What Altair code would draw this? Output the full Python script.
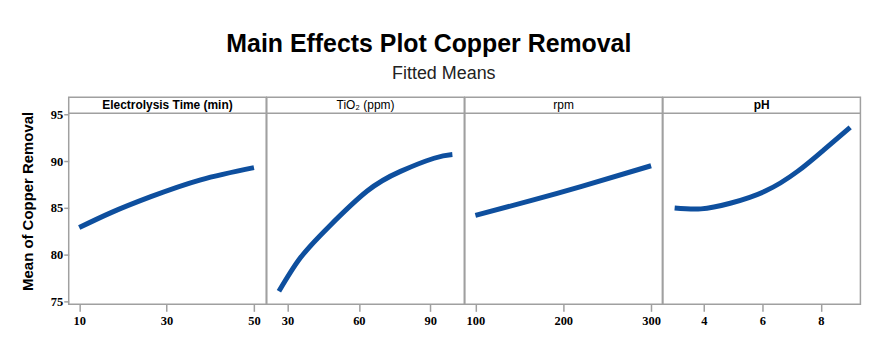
import altair as alt
import pandas as pd

# ---- data ----
time_x = [10, 17.3, 26.4, 37.8, 50]
time_y = [82.9, 84.5, 86.2, 88.0, 89.3]

tio2_x = [26.4, 35.5, 47.4, 63.5, 77.5, 91.6, 99.3]
tio2_y = [76.1, 79.7, 83.0, 86.8, 88.9, 90.3, 90.7]

rpm_x = [100, 164, 221, 300]
rpm_y = [84.2, 85.8, 87.3, 89.5]

ph_x = [3.0, 3.9, 4.9, 6.1, 7.2, 8.1, 9.0]
ph_y = [85.0, 84.9, 85.5, 86.8, 88.9, 91.2, 93.6]

headers = ["Electrolysis Time (min)", "TiO\u2082 (ppm)", "rpm", "pH"]
header_weights = ["bold", "normal", "normal", "bold"]
x_domains = [[7.6, 52.8], [21.3, 104.3], [88, 312.8], [2.6, 9.35]]
x_ticks = [[10, 30, 50], [30, 60, 90], [100, 200, 300], [4, 6, 8]]
y_ticks = [75, 80, 85, 90, 95]
y_domain = [74.71, 96.80]   # top part of the range holds the header strip

BLUE = "#0E4F9E"
FRAME = "#A0A0A0"
W, HH, H = 198.4, 16, 192


def panel(xs, ys, header, weight, xdom, xt, first):
    df = pd.DataFrame({"x": xs, "y": ys})
    if first:
        yaxis = alt.Axis(values=y_ticks, title="Mean of Copper Removal")
    else:
        yaxis = None
    line = alt.Chart(df).mark_line(
        color=BLUE, strokeWidth=5, interpolate="natural"
    ).encode(
        x=alt.X("x:Q", scale=alt.Scale(domain=xdom, nice=False, zero=False),
                axis=alt.Axis(values=xt, title=None)),
        y=alt.Y("y:Q", scale=alt.Scale(domain=y_domain, nice=False, zero=False),
                axis=yaxis),
    )
    hdf = pd.DataFrame({"t": [header]})
    rule = alt.Chart(hdf).mark_rule(color=FRAME, strokeWidth=1.5).encode(
        x=alt.value(0), x2=alt.value(W), y=alt.value(HH)
    )
    txt = alt.Chart(hdf).mark_text(
        font="Liberation Sans", fontSize=12, fontWeight=weight, color="black",
        baseline="middle", align="center"
    ).encode(text="t:N", x=alt.value(W / 2), y=alt.value(HH / 2))
    return alt.layer(line, rule, txt).properties(width=W, height=HH + H)


series = [(time_x, time_y), (tio2_x, tio2_y), (rpm_x, rpm_y), (ph_x, ph_y)]
cols = [
    panel(s[0], s[1], headers[i], header_weights[i], x_domains[i], x_ticks[i], i == 0)
    for i, s in enumerate(series)
]

inner = alt.hconcat(*cols, spacing=0, bounds="flush").properties(
    title=alt.TitleParams(
        "Fitted Means", font="Liberation Sans", fontSize=18, fontWeight="normal",
        color="#222222", offset=14, anchor="middle", dx=3,
    )
)

chart = alt.vconcat(inner, spacing=0).properties(
    title=alt.TitleParams(
        "Main Effects Plot Copper Removal",
        font="Liberation Sans", fontSize=25, fontWeight="bold", color="black",
        offset=8, anchor="middle", dx=-12,
    ),
    padding={"left": 11, "top": 23, "right": 2, "bottom": 0},
).configure_view(
    stroke=FRAME, strokeWidth=1.5
).configure_axis(
    grid=False, domain=False, tickColor=FRAME, tickWidth=1.5,
    labelFont="Liberation Serif", labelFontSize=12.5, labelFontWeight="bold",
    labelColor="black",
).configure_axisY(
    tickSize=5, labelPadding=1, titleFont="Liberation Sans", titleFontSize=15,
    titleFontWeight="bold", titleColor="black", titlePadding=15,
).configure_axisX(
    tickSize=7, labelPadding=3,
).configure_concat(spacing=0)

chart.save("out.html", embed_options={"renderer": "svg", "actions": False})
